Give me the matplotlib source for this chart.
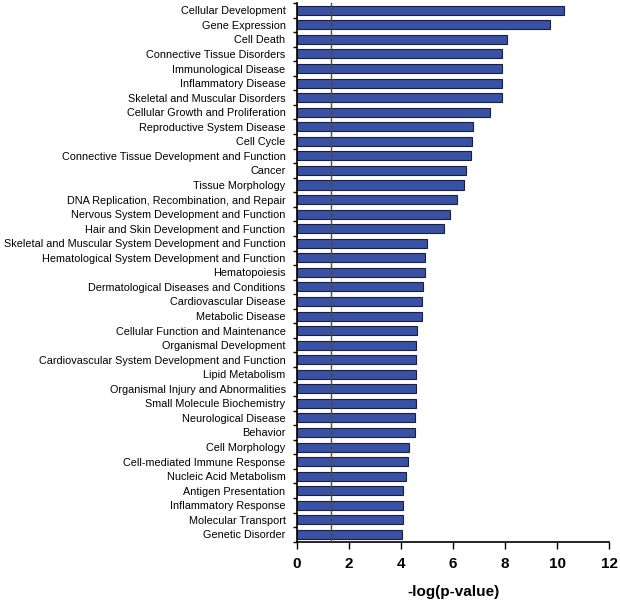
import numpy as np
import matplotlib
matplotlib.use('Agg')
import matplotlib.pyplot as plt

plt.rcParams['font.family'] = ['Liberation Sans', 'DejaVu Sans']

categories = [
    "Cellular Development", "Gene Expression", "Cell Death",
    "Connective Tissue Disorders", "Immunological Disease", "Inflammatory Disease",
    "Skeletal and Muscular Disorders", "Cellular Growth and Proliferation",
    "Reproductive System Disease", "Cell Cycle",
    "Connective Tissue Development and Function", "Cancer", "Tissue Morphology",
    "DNA Replication, Recombination, and Repair",
    "Nervous System Development and Function", "Hair and Skin Development and Function",
    "Skeletal and Muscular System Development and Function",
    "Hematological System Development and Function", "Hematopoiesis",
    "Dermatological Diseases and Conditions", "Cardiovascular Disease", "Metabolic Disease",
    "Cellular Function and Maintenance", "Organismal Development",
    "Cardiovascular System Development and Function", "Lipid Metabolism",
    "Organismal Injury and Abnormalities", "Small Molecule Biochemistry",
    "Neurological Disease", "Behavior", "Cell Morphology", "Cell-mediated Immune Response",
    "Nucleic Acid Metabolism", "Antigen Presentation", "Inflammatory Response",
    "Molecular Transport", "Genetic Disorder",
]
neg_log_p = [
    10.26, 9.71, 8.06, 7.88, 7.88, 7.88, 7.88, 7.42, 6.78, 6.73,
    6.69, 6.51, 6.42, 6.14, 5.87, 5.64, 4.99, 4.91, 4.91, 4.86,
    4.81, 4.81, 4.63, 4.58, 4.58, 4.58, 4.58, 4.58, 4.53, 4.53,
    4.31, 4.26, 4.21, 4.08, 4.08, 4.08, 4.03,
]
threshold = 1.3  # -log(0.05)
xticks = [0, 2, 4, 6, 8, 10, 12]

fig = plt.figure(figsize=(6.2, 6.01), dpi=100)
ax = fig.add_axes([0.4785, 0.0987, 0.5043, 0.8963])

y = np.arange(len(categories))
ax.barh(y, neg_log_p, height=0.62, color='#3851A5', edgecolor='#1c1f3c', linewidth=0.8, zorder=2)
ax.axvline(threshold, color='#4a4a4a', linewidth=1.0, zorder=3)

ax.set_ylim(len(categories) - 0.5, -0.5)
ax.set_xlim(0, 12)

# category ticks between bars, labels centred on bars
ax.set_yticks(np.arange(len(categories) + 1) - 0.5)
ax.set_yticklabels([])
ax.set_yticks(y, minor=True)
ax.set_yticklabels(categories, minor=True, fontsize=7.8)
ax.tick_params(axis='y', which='major', direction='out', length=3, width=1)
ax.tick_params(axis='y', which='minor', length=0, pad=8)

ax.set_xticks(xticks)
ax.set_xticklabels([str(t) for t in xticks], fontsize=11, fontweight='bold')
ax.tick_params(axis='x', direction='out', length=5, width=1, pad=6)
ax.set_xlabel('-log(p-value)', fontsize=11, fontweight='bold', labelpad=10)

for s in ['top', 'right']:
    ax.spines[s].set_visible(False)
for s in ['left', 'bottom']:
    ax.spines[s].set_linewidth(1.2)

fig.savefig('out.png', dpi=100)
